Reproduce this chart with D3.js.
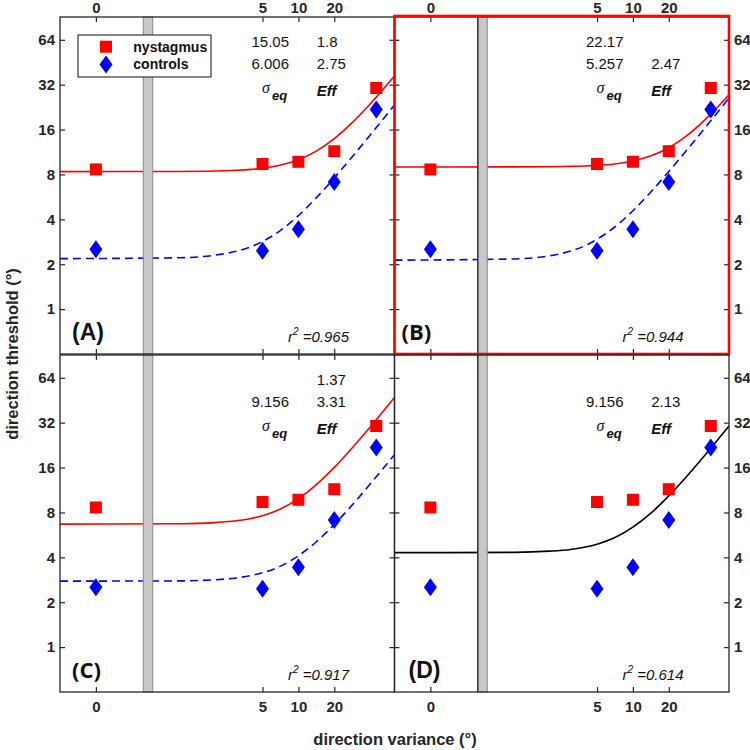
<!DOCTYPE html>
<html>
<head>
<meta charset="utf-8">
<script src="https://cdn.jsdelivr.net/npm/d3@7"></script>
<style>
  body { margin: 0; background: #fff; }
  svg { display: block; font-family: "Liberation Sans", Arial, sans-serif; }
</style>
</head>
<body>
<script>
// measured points (same in every panel); "0" variance is plotted at ZERO_AT on the log axis
const xVals = [0, 5, 10, 20, 45];
const nystagmus = [8.64, 9.4, 9.73, 11.45, 30.4];
const controls = [2.52, 2.46, 3.43, 7.11, 21.8];

const xTicks = [0, 5, 10, 20];
const yTicks = [1, 2, 4, 8, 16, 32, 64];

// fitted curves
const fitX = [0.1, 1, 2, 3, 4, 5, 7, 10, 14, 20, 28, 40, 64];
const fitNysA = [8.36, 8.38, 8.43, 8.53, 8.65, 8.81, 9.22, 10.04, 11.42, 13.91, 17.66, 23.74, 36.53];
const fitConA = [2.18, 2.21, 2.30, 2.44, 2.62, 2.84, 3.35, 4.24, 5.54, 7.59, 10.41, 14.71, 23.38];
const fitNysB = [8.98, 8.99, 9.01, 9.06, 9.12, 9.20, 9.41, 9.85, 10.62, 12.09, 14.46, 18.52, 27.42];
const fitConB = [2.13, 2.17, 2.28, 2.45, 2.67, 2.94, 3.54, 4.57, 6.05, 8.37, 11.53, 16.33, 26.0];
const fitNysC = [6.68, 6.72, 6.84, 7.03, 7.29, 7.61, 8.41, 9.90, 12.21, 16.06, 21.50, 29.95, 47.19];
const fitConC = [2.77, 2.78, 2.83, 2.91, 3.02, 3.15, 3.48, 4.10, 5.05, 6.65, 8.90, 12.40, 19.53];
const fitAllD = [4.30, 4.32, 4.40, 4.52, 4.69, 4.90, 5.41, 6.37, 7.85, 10.33, 13.83, 19.26, 30.35];

// fit parameter text: [sigma_eq column, Eff column] for row 1 (nystagmus) and row 2 (controls)
const paramsA = [["15.05", "1.8"], ["6.006", "2.75"]];
const paramsB = [["22.17", ""], ["5.257", "2.47"]];
const paramsC = [["", "1.37"], ["9.156", "3.31"]];
const paramsD = [["", ""], ["9.156", "2.13"]];
const r2 = ["0.965", "0.944", "0.917", "0.614"];
const panelNames = ["(A)", "(B)", "(C)", "(D)"];

const ZERO_AT = 0.2;
const BREAK = [0.5, 0.6];

const W = 750, H = 750;
const pw = 334.5, ph = 337;
const colX = [60, 394.5];
const rowY = [17, 355];
const ink = "#262626";

const svg = d3.select("body").append("svg")
    .attr("width", W)
    .attr("height", H);

const x = d3.scaleLog().domain([0.1, 64]).range([0, pw]);
const y = d3.scaleLog().domain([0.5, 91]).range([ph, 0]);
const xPos = v => v === 0 ? ZERO_AT : v;

const line = d3.line()
    .x(d => x(d[0]))
    .y(d => y(d[1]))
    .curve(d3.curveMonotoneX);

const panels = [
    { name: 0, col: 0, row: 0, params: paramsA,
      fits: [{ v: fitNysA, color: "#ff0000" }, { v: fitConA, color: "#0000ff", dash: "8,5" }] },
    { name: 1, col: 1, row: 0, params: paramsB,
      fits: [{ v: fitNysB, color: "#ff0000" }, { v: fitConB, color: "#0000ff", dash: "8,5" }] },
    { name: 2, col: 0, row: 1, params: paramsC,
      fits: [{ v: fitNysC, color: "#ff0000" }, { v: fitConC, color: "#0000ff", dash: "8,5" }] },
    { name: 3, col: 1, row: 1, params: paramsD,
      fits: [{ v: fitAllD, color: "#000000" }] }
];

const labelX = [12, 7, 12, 14];
const diamond = "M0,-9L6.5,0L0,9L-6.5,0Z";

panels.forEach(p => {
    const g = svg.append("g")
        .attr("transform", `translate(${colX[p.col]},${rowY[p.row]})`);

    // fitted curves
    p.fits.forEach(f => {
        g.append("path")
            .attr("d", line(fitX.map((xv, i) => [xv, f.v[i]])))
            .attr("fill", "none")
            .attr("stroke", f.color)
            .attr("stroke-width", 1.6)
            .attr("stroke-dasharray", f.dash || null);
    });

    // axis break bar
    g.append("rect")
        .attr("x", x(BREAK[0]))
        .attr("y", 0)
        .attr("width", x(BREAK[1]) - x(BREAK[0]))
        .attr("height", ph)
        .attr("fill", "#c8c8c8")
        .attr("stroke", "#8a8a8a")
        .attr("stroke-width", 1);
    if (p.col === 1) {
        g.append("line")
            .attr("x1", x(BREAK[0])).attr("x2", x(BREAK[0]))
            .attr("y1", 0).attr("y2", ph)
            .attr("stroke", ink).attr("stroke-width", 1.3);
    }

    // markers
    g.selectAll(".nys")
        .data(nystagmus)
        .join("rect")
        .attr("class", "nys")
        .attr("x", (d, i) => x(xPos(xVals[i])) - 6)
        .attr("y", d => y(d) - 6)
        .attr("width", 12)
        .attr("height", 12)
        .attr("fill", "#ff0000");
    g.selectAll(".con")
        .data(controls)
        .join("path")
        .attr("class", "con")
        .attr("d", diamond)
        .attr("transform", (d, i) => `translate(${x(xPos(xVals[i]))},${y(d)})`)
        .attr("fill", "#0000ff");

    // axes (ticks inward on all four sides)
    const fmtX = d => d === ZERO_AT ? "0" : d;
    const xtv = xTicks.map(xPos);
    const axes = [
        { ax: d3.axisLeft(y).tickValues(yTicks).tickFormat(p.col === 0 ? d3.format("d") : () => ""),
          tr: "translate(0,0)", pad: 5 },
        { ax: d3.axisRight(y).tickValues(yTicks).tickFormat(p.col === 1 ? d3.format("d") : () => ""),
          tr: `translate(${pw},0)`, pad: 5 },
        { ax: d3.axisTop(x).tickValues(xtv).tickFormat(p.row === 0 ? fmtX : () => ""),
          tr: "translate(0,0)", pad: 4.5 },
        { ax: d3.axisBottom(x).tickValues(xtv).tickFormat(p.row === 1 ? fmtX : () => ""),
          tr: `translate(0,${ph})`, pad: 9 }
    ];
    axes.forEach(a => {
        const ag = g.append("g")
            .attr("transform", a.tr)
            .call(a.ax.tickSize(-5).tickPadding(a.pad));
        ag.select(".domain").remove();
        ag.selectAll("line").attr("stroke", ink).attr("stroke-width", 1.2);
        ag.selectAll("text")
            .attr("fill", ink)
            .style("font-family", '"Liberation Sans", Arial, sans-serif')
            .style("font-size", "15px")
            .style("font-weight", "bold");
    });

    g.append("rect")
        .attr("width", pw)
        .attr("height", ph)
        .attr("fill", "none")
        .attr("stroke", ink)
        .attr("stroke-width", 1.3);

    // fit parameters
    p.params.forEach((row, ri) => {
        row.forEach((t, ci) => {
            g.append("text")
                .attr("x", ci === 0 ? 191.5 : 256.7)
                .attr("y", ri === 0 ? 29.5 : 52)
                .attr("font-size", 15)
                .attr("fill", "#111")
                .text(t);
        });
    });
    g.append("text")
        .attr("x", 202)
        .attr("y", 76)
        .attr("font-family", '"Liberation Serif", serif')
        .attr("font-style", "italic")
        .attr("font-size", 16)
        .attr("fill", "#111")
        .text("σ");
    g.append("text")
        .attr("x", 212)
        .attr("y", 83)
        .attr("font-style", "italic")
        .attr("font-weight", "bold")
        .attr("font-size", 13)
        .attr("fill", "#111")
        .text("eq");
    g.append("text")
        .attr("x", 256.7)
        .attr("y", 79)
        .attr("font-style", "italic")
        .attr("font-weight", "bold")
        .attr("font-size", 15)
        .attr("fill", "#111")
        .text("Eff");

    // r squared
    const rt = g.append("text")
        .attr("x", 228)
        .attr("y", 324.5)
        .attr("font-style", "italic")
        .attr("font-size", 15)
        .attr("fill", "#111");
    rt.append("tspan").text("r");
    rt.append("tspan").attr("dy", -7).attr("font-size", 10).text("2");
    rt.append("tspan").attr("dy", 7).text(" =" + r2[p.name]);

    // panel letter
    g.append("text")
        .attr("x", labelX[p.name])
        .attr("y", ph - 14)
        .attr("font-family", p.name === 1 || p.name === 2 ? '"Open Sans", sans-serif' : null)
        .attr("font-weight", "bold")
        .attr("font-size", p.name === 1 || p.name === 2 ? 22 : 23)
        .attr("fill", "#111")
        .text(panelNames[p.name]);

    if (p.name === 1) {
        g.append("rect")
            .attr("x", 0).attr("y", -1)
            .attr("width", pw)
            .attr("height", ph + 1)
            .attr("fill", "none")
            .attr("stroke", "#ff0000")
            .attr("stroke-width", 2.6);
    }

    if (p.name === 0) {
        const lg = g.append("g").attr("transform", "translate(18,18)");
        lg.append("rect")
            .attr("width", 133)
            .attr("height", 42)
            .attr("fill", "#fff")
            .attr("stroke", "#111")
            .attr("stroke-width", 1);
        lg.append("rect")
            .attr("x", 22).attr("y", 5.7)
            .attr("width", 12).attr("height", 12)
            .attr("fill", "#ff0000");
        lg.append("path")
            .attr("d", diamond)
            .attr("transform", "translate(28,29.5)")
            .attr("fill", "#0000ff");
        lg.append("text")
            .attr("x", 55.3).attr("y", 16.7)
            .attr("font-weight", "bold").attr("font-size", 14)
            .attr("fill", "#111")
            .text("nystagmus");
        lg.append("text")
            .attr("x", 55.3).attr("y", 33.5)
            .attr("font-weight", "bold").attr("font-size", 14)
            .attr("fill", "#111")
            .text("controls");
    }
});

// axis titles
svg.append("text")
    .attr("x", 395)
    .attr("y", 745)
    .attr("text-anchor", "middle")
    .attr("font-weight", "bold")
    .attr("font-size", 16.5)
    .attr("fill", ink)
    .text("direction variance (°)");

svg.append("text")
    .attr("transform", "translate(18,354) rotate(-90)")
    .attr("text-anchor", "middle")
    .attr("font-weight", "bold")
    .attr("font-size", 16.5)
    .attr("fill", ink)
    .text("direction threshold (°)");
</script>
</body>
</html>
